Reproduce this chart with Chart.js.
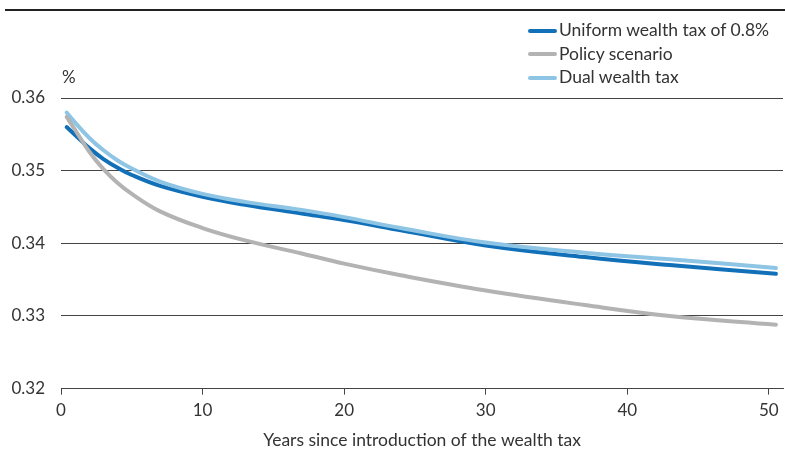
<!DOCTYPE html>
<html>
<head>
<meta charset="utf-8">
<script src="https://cdn.jsdelivr.net/npm/chart.js@4.4.0/dist/chart.umd.min.js"></script>
<style>
  body { margin: 0; background: #fff; font-family: Lato, sans-serif; }
  #wrap { position: relative; width: 785px; height: 451px; }
  #topRule { position: absolute; left: 5px; top: 9px; width: 780px; height: 2px; background: #222; }
  #js-legend { position: absolute; left: 528px; top: 19px; font-size: 17.5px; color: #333; }
  #js-legend div { height: 23.5px; line-height: 22px; white-space: nowrap; }
  #js-legend span.sw { display: inline-block; width: 29px; height: 4px; border-radius: 2px; vertical-align: middle; margin-right: 2px; position: relative; top: -1px; }
</style>
</head>
<body>
<div id="wrap">
  <div id="topRule"></div>
  <canvas id="lineChart" width="785" height="451"></canvas>
  <div id="js-legend"></div>
</div>
<script>
var years   = [0.4, 1, 2, 3, 4, 5, 7, 10, 13, 17, 20, 24, 30, 37, 43, 50.5];
var uniform = [0.3560, 0.3549, 0.3531, 0.3516, 0.3504, 0.3494, 0.3479, 0.3464, 0.3453, 0.3441, 0.3432, 0.3418, 0.3397, 0.3381, 0.3370, 0.3358];
var policy  = [0.3574, 0.3556, 0.3526, 0.3502, 0.3483, 0.3468, 0.3444, 0.3421, 0.3404, 0.3386, 0.3372, 0.3356, 0.3335, 0.3315, 0.3300, 0.3288];
var dual    = [0.3580, 0.3566, 0.3545, 0.3528, 0.3514, 0.3503, 0.3485, 0.3468, 0.3457, 0.3446, 0.3436, 0.3421, 0.3401, 0.3387, 0.3378, 0.3366];
var xTicks  = [0, 10, 20, 30, 40, 50];
var yTicks  = [0.32, 0.33, 0.34, 0.35, 0.36];

var names  = ['Uniform wealth tax of 0.8%', 'Policy scenario', 'Dual wealth tax'];
var colors = ['#1170b8', '#b3b3b3', '#8ec5e4'];

function pts(vals) {
    return years.map(function (y, i) { return { x: y, y: vals[i] }; });
}

var percentLabel = {
    id: 'percentLabel',
    afterDraw: function (chart) {
        var c = chart.ctx;
        c.save();
        c.font = '17px Lato';
        c.fillStyle = '#333';
        c.textBaseline = 'bottom';
        c.fillText('%', chart.chartArea.left + 1, chart.chartArea.top - 12);
        c.restore();
    }
};

var ctx_line = document.getElementById('lineChart');
var lineChart = new Chart(ctx_line, {
    type: 'line',
    data: {
        datasets: [
            { label: names[0], data: pts(uniform), borderColor: colors[0], order: 2 },
            { label: names[1], data: pts(policy), borderColor: colors[1], order: 0 },
            { label: names[2], data: pts(dual), borderColor: colors[2], order: 1 }
        ]
    },
    options: {
        responsive: false,
        animation: false,
        layout: { padding: { top: 98, right: 2, left: 3, bottom: 0 } },
        elements: {
            point: { radius: 0 },
            line: { borderWidth: 4, tension: 0.4, borderCapStyle: 'round' }
        },
        plugins: {
            legend: { display: false },
            tooltip: { enabled: false }
        },
        scales: {
            x: {
                type: 'linear',
                min: 0,
                max: 51,
                afterBuildTicks: function (axis) { axis.ticks = xTicks.map(function (v) { return { value: v }; }); },
                grid: { drawOnChartArea: false, drawTicks: true, tickLength: 6, color: '#444' },
                border: { color: '#444', width: 1 },
                ticks: { color: '#333', font: { family: 'Lato', size: 17 }, padding: 6, maxRotation: 0 },
                title: { display: true, text: 'Years since introduction of the wealth tax', color: '#333', font: { family: 'Lato', size: 17.5 }, padding: { top: 3, bottom: 0 } }
            },
            y: {
                min: 0.32,
                max: 0.36,
                afterBuildTicks: function (axis) { axis.ticks = yTicks.map(function (v) { return { value: v }; }); },
                afterFit: function (axis) { axis.width = 58; },
                grid: { color: '#444', drawTicks: false, tickLength: 0 },
                border: { display: false },
                ticks: {
                    color: '#333', font: { family: 'Lato', size: 17 }, padding: 16,
                    callback: function (v) { return v.toFixed(2); }
                }
            }
        }
    },
    plugins: [percentLabel]
});

var html = '';
for (var i = 0; i < names.length; i++) {
    html += '<div><span class="sw" style="background:' + colors[i] + '"></span>' + names[i] + '</div>';
}
document.getElementById('js-legend').innerHTML = html;
</script>
</body>
</html>
